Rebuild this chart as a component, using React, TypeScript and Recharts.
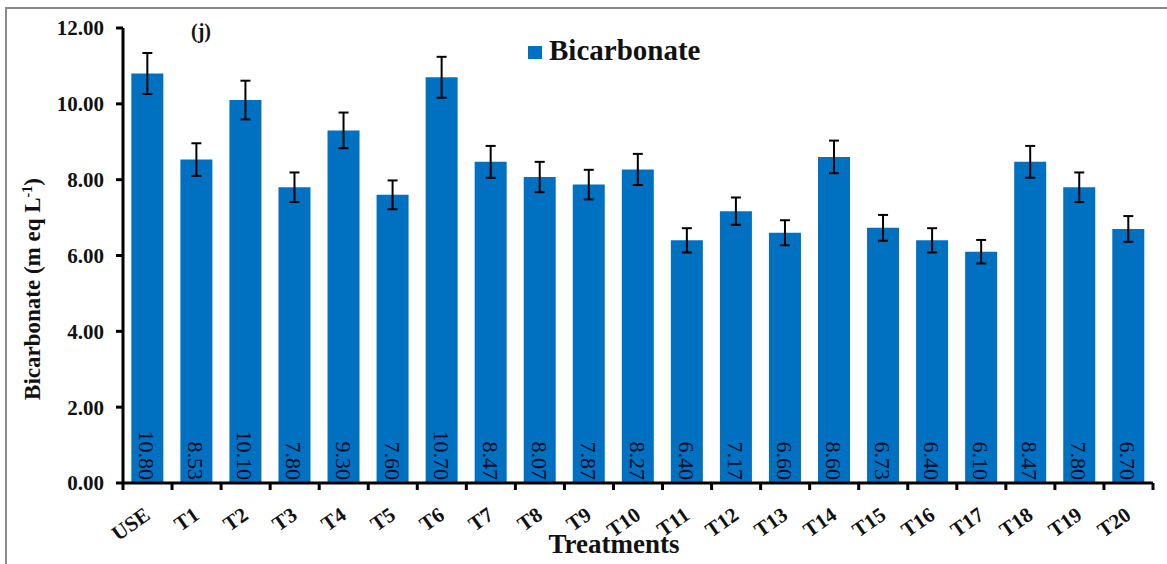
import { BarChart, Bar, XAxis, YAxis, ErrorBar, LabelList } from 'recharts'

const treatments = ['USE', 'T1', 'T2', 'T3', 'T4', 'T5', 'T6', 'T7', 'T8', 'T9', 'T10', 'T11', 'T12', 'T13', 'T14', 'T15', 'T16', 'T17', 'T18', 'T19', 'T20']
const bicarbonate = [10.8, 8.53, 10.1, 7.8, 9.3, 7.6, 10.7, 8.47, 8.07, 7.87, 8.27, 6.4, 7.17, 6.6, 8.6, 6.73, 6.4, 6.1, 8.47, 7.8, 6.7]
const errors = [0.54, 0.43, 0.51, 0.39, 0.47, 0.38, 0.54, 0.42, 0.4, 0.39, 0.41, 0.32, 0.36, 0.33, 0.43, 0.34, 0.32, 0.31, 0.42, 0.39, 0.34]
const yTicks = [0, 2, 4, 6, 8, 10, 12]

const data = treatments.map((t, i) => ({ name: t, value: bicarbonate[i], err: errors[i] }))

const W = 1167
const H = 564
const M = { top: 28, right: 14, left: 0, bottom: 0 }
const Y_W = 123
const X_H = 81
const STEP = (W - Y_W - M.right) / treatments.length
const SERIF = '"Liberation Serif", "Times New Roman", serif'
const BLUE = '#0070C0'

function XTick({ x, y, payload, index }: any) {
  const last = index === treatments.length - 1
  const ax = x + 4
  const ay = y + 27
  return (
    <g>
      <line x1={x - STEP / 2} x2={x - STEP / 2} y1={y - 8} y2={y - 1} stroke="#000" strokeWidth={3} />
      {last && <line x1={x + STEP / 2} x2={x + STEP / 2} y1={y - 8} y2={y - 1} stroke="#000" strokeWidth={3} />}
      <text
        x={ax}
        y={ay}
        transform={`rotate(-35, ${ax}, ${ay})`}
        textAnchor="end"
        fontFamily={SERIF}
        fontWeight="bold"
        fontSize={21}
        fill="#111"
      >
        {payload.value}
      </text>
    </g>
  )
}

function ValueLabel({ x, y, width, height, value }: any) {
  const cx = x + width / 2 - 8
  const by = y + height - 3
  return (
    <text
      x={cx}
      y={by}
      transform={`rotate(90, ${cx}, ${by})`}
      textAnchor="end"
      fontFamily={SERIF}
      fontSize={22}
      fill="#0c0c1e"
    >
      {Number(value).toFixed(2)}
    </text>
  )
}

export default function App() {
  return (
    <div style={{ position: 'absolute', left: 0, top: 0, width: W, height: H, background: '#fff', overflow: 'hidden', fontFamily: SERIF }}>
      <div style={{ position: 'absolute', left: 5, top: 7, width: W, height: H, borderLeft: '2px solid #8a8a8a', borderTop: '2px solid #8a8a8a' }} />
      <BarChart width={W} height={H} data={data} margin={M} barCategoryGap="17%">
        <XAxis
          dataKey="name"
          height={X_H}
          interval={0}
          tickLine={false}
          axisLine={{ stroke: '#000', strokeWidth: 3 }}
          tick={<XTick />}
        />
        <YAxis
          width={Y_W}
          domain={[0, 12]}
          ticks={yTicks}
          tickFormatter={(v: number) => v.toFixed(2)}
          axisLine={{ stroke: '#000', strokeWidth: 3 }}
          tickLine={{ stroke: '#000', strokeWidth: 3 }}
          tickSize={7}
          tickMargin={12}
          tick={{ fill: '#111', fontFamily: SERIF, fontWeight: 'bold', fontSize: 21 }}
        />
        <Bar dataKey="value" fill={BLUE} isAnimationActive={false}>
          <ErrorBar dataKey="err" width={5} stroke="#000" strokeWidth={2} />
          <LabelList dataKey="value" content={<ValueLabel />} />
        </Bar>
      </BarChart>
      <div style={{ position: 'absolute', left: 191, top: 20, fontSize: 20, fontWeight: 'bold', color: '#111' }}>(j)</div>
      <div style={{ position: 'absolute', left: 528, top: 46, width: 14, height: 13, background: BLUE }} />
      <div style={{ position: 'absolute', left: 549, top: 34, fontSize: 29, fontWeight: 'bold', color: '#111', lineHeight: '32px' }}>Bicarbonate</div>
      <div style={{ position: 'absolute', left: 0, top: 529, width: 1228, textAlign: 'center', fontSize: 27, fontWeight: 'bold', color: '#111', lineHeight: '30px' }}>Treatments</div>
      <div
        style={{
          position: 'absolute',
          left: 33,
          top: 289,
          transform: 'translate(-50%, -50%) rotate(-90deg)',
          whiteSpace: 'nowrap',
          fontSize: 23,
          fontWeight: 'bold',
          color: '#111',
        }}
      >
        Bicarbonate (m eq L<sup style={{ fontSize: 14 }}>-1</sup>)
      </div>
    </div>
  )
}
